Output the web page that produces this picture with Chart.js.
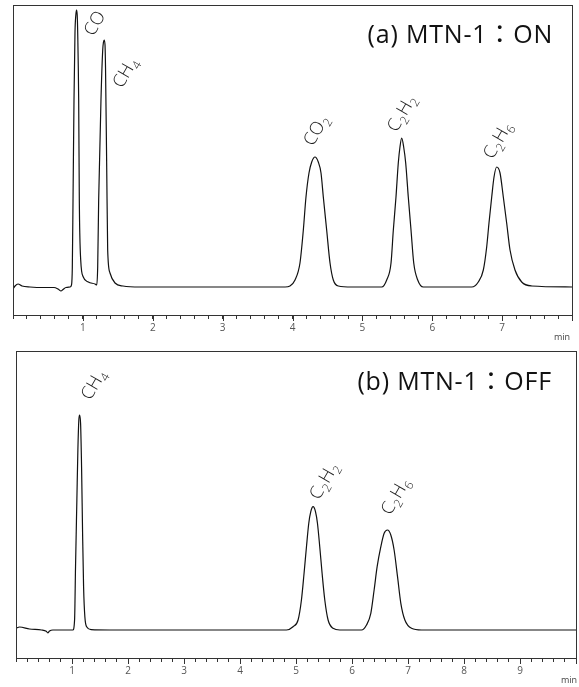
<!DOCTYPE html>
<html>
<head>
<meta charset="utf-8">
<script src="https://cdn.jsdelivr.net/npm/chart.js@4.4.1/dist/chart.umd.min.js"></script>
<style>
body { margin: 0; background: #fff; width: 579px; height: 687px; overflow: hidden; }
canvas { position: absolute; left: 0; }
#chartTop { top: 0; }
#chartBot { top: 345px; }
</style>
</head>
<body>
<canvas id="chartTop" width="579" height="345"></canvas>
<canvas id="chartBot" width="579" height="342"></canvas>
<script>
// (a) MTN-1 : ON  -- retention time (min) / detector signal
var topTime = [0.000,0.029,0.072,0.129,0.243,0.458,0.587,0.644,0.687,0.716,0.758,0.816,
    0.837,0.849,0.859,0.873,0.887,0.899,0.909,0.919,0.926,0.940,0.949,0.969,1.006,1.078,1.174,1.198,
    1.212,1.226,1.259,1.284,1.295,1.305,1.317,1.324,1.341,1.355,1.388,1.460,1.574,1.818,
    3.893,3.964,4.036,4.107,4.155,4.193,4.236,4.275,4.322,4.369,4.408,4.441,4.489,4.537,4.584,4.655,4.847,
    5.277,5.348,5.410,5.443,5.481,5.514,5.538,5.563,5.591,5.620,5.657,5.696,5.735,5.792,5.872,
    6.565,6.659,6.731,6.779,6.812,6.851,6.884,6.922,6.970,7.017,7.065,7.113,7.184,7.280,7.423,8.000];
var topSignal = [-2,1,3,1,0,-0.5,-0.5,-2,-4,-2.5,-0.5,0,
    2,20,87,187,254,272,277,272,254,187,87,27,10,5,3,2,
    20,87,187,237,245,247,242,220,120,37,14,4,1,0,
    0,1,7,24,57,90,114,125,130,125,114,90,57,24,7,1,0,
    0,7,24,57,90,124,140,149,140,124,90,57,24,7,0,
    0,5,17,40,64,90,110,120,114,90,64,37,17,5,1,0];
var topPeakNames = ['CO', 'CH4', 'CO2', 'C2H2', 'C2H6'];
var topPeakTimes = [0.909, 1.305, 4.322, 5.563, 6.922];
var topTitle = '(a) MTN-1\uFF1AON';
var topMaxTime = 8;

// (b) MTN-1 : OFF
var botTime = [0.000,0.063,0.241,0.456,0.540,0.568,0.599,0.658,1.015,
    1.046,1.063,1.087,1.105,1.122,1.135,1.153,1.171,1.189,1.207,1.230,1.265,1.344,1.671,
    4.829,4.947,5.037,5.097,5.144,5.187,5.228,5.264,5.305,5.348,5.383,5.424,5.466,5.514,5.573,5.662,5.782,
    6.170,6.259,6.336,6.395,6.449,6.515,6.574,6.634,6.693,6.752,6.813,6.872,6.944,7.063,7.242,10.000];
var botSignal = [1.7,3,1,0,-1.3,-2.8,-1,0,0,
    10,63,130,180,210,215,207,163,97,43,13,3,0.3,0,
    0,3.3,10,30,56.7,83.3,106.7,118.3,123.3,118.3,106.7,83.3,56.7,30,10,1.7,0,
    0,5,16.7,40,63.3,83.3,96.7,100,95,80,53.3,26.7,10,1.7,0,0];
var botPeakNames = ['CH4', 'C2H2', 'C2H6'];
var botPeakTimes = [1.135, 5.305, 6.634];
var botTitle = '(b) MTN-1\uFF1AOFF';
var botMaxTime = 10;

var FONT = '"Open Sans", "Noto Sans CJK JP", sans-serif';

// label placement relative to the peak apex (px)
var topLabelShift = [[17, 27], [18, 49], [-2, -10], [-5, -5], [-4, -7]];
var botLabelShift = [[11, -14], [6, -6], [3, -14]];

function toPoints(t, s) {
    return t.map(function(v, i) { return {x: v, y: s[i]}; });
}

function drawFormula(ctx, text, x, y) {
    ctx.save();
    ctx.translate(x, y);
    ctx.rotate(-60 * Math.PI / 180);
    ctx.fillStyle = '#222';
    ctx.textAlign = 'left';
    ctx.textBaseline = 'alphabetic';
    var cx = 0;
    for (var i = 0; i < text.length; i++) {
        var ch = text[i];
        if (/[0-9]/.test(ch)) {
            ctx.font = '300 12px ' + FONT;
            ctx.fillText(ch, cx + 0.5, 4.5);
            cx += ctx.measureText(ch).width + 1;
        } else {
            ctx.font = '300 18px ' + FONT;
            ctx.fillText(ch, cx, 0);
            cx += ctx.measureText(ch).width;
        }
    }
    ctx.restore();
}

var chromPlugin = {
    id: 'chrom',
    afterDraw: function(chart) {
        var o = chart.options.plugins.chrom;
        var a = chart.chartArea, ctx = chart.ctx;
        var xs = chart.scales.x, ys = chart.scales.y;
        ctx.save();
        ctx.strokeStyle = '#333';
        ctx.lineWidth = 1;
        ctx.strokeRect(Math.round(a.left) + 0.5, Math.round(a.top) + 0.5,
            Math.round(a.right - a.left), Math.round(a.bottom - a.top));
        // longer major ticks
        ctx.beginPath();
        for (var v = 1; v <= o.maxTime; v++) {
            var px = Math.round(xs.getPixelForValue(v)) + 0.5;
            ctx.moveTo(px, a.bottom);
            ctx.lineTo(px, a.bottom + 6);
        }
        ctx.stroke();
        ctx.fillStyle = '#444';
        ctx.font = '9px ' + FONT;
        ctx.textAlign = 'right';
        ctx.textBaseline = 'alphabetic';
        ctx.fillText('min', a.right + o.minDx, a.bottom + 25);
        ctx.fillStyle = '#111';
        ctx.font = '25px ' + FONT;
        ctx.letterSpacing = '0.8px';
        ctx.fillText(o.title, a.right + o.titleDx, a.top + o.titleDy);
        ctx.letterSpacing = '0px';
        var ds = chart.data.datasets[0].data;
        o.names.forEach(function(name, k) {
            var best = null;
            ds.forEach(function(p) {
                if (Math.abs(p.x - o.times[k]) < 0.06 && (best === null || p.y > best.y)) best = p;
            });
            var px = xs.getPixelForValue(best.x), py = ys.getPixelForValue(best.y);
            drawFormula(ctx, name, px + o.shift[k][0], py + o.shift[k][1]);
        });
        ctx.restore();
    }
};

function makeChart(id, t, s, maxTime, pad, names, times, shift, title, titleDx, titleDy, minDx) {
    return new Chart(document.getElementById(id), {
        type: 'line',
        data: {
            datasets: [{
                data: toPoints(t, s),
                borderColor: '#111',
                borderWidth: 1.2,
                pointRadius: 0,
                cubicInterpolationMode: 'monotone',
                fill: false
            }]
        },
        options: {
            responsive: false,
            animation: false,
            layout: { padding: pad },
            plugins: {
                legend: { display: false },
                tooltip: { enabled: false },
                chrom: { maxTime: maxTime, names: names, times: times, shift: shift,
                         title: title, titleDx: titleDx, titleDy: titleDy, minDx: minDx }
            },
            scales: {
                x: {
                    type: 'linear',
                    min: 0,
                    max: maxTime,
                    afterFit: function(sc) { sc.height = 25; },
                    border: { display: false },
                    grid: { drawOnChartArea: false, drawTicks: true, tickLength: 4, tickColor: '#333', tickWidth: 1 },
                    ticks: {
                        stepSize: 0.2,
                        autoSkip: false,
                        maxRotation: 0,
                        padding: 3,
                        color: '#555',
                        font: { family: FONT, size: 10 },
                        callback: function(v) {
                            var r = Math.round(v);
                            return (Math.abs(v - r) < 1e-6 && r > 0 && r < maxTime) ? String(r) : '';
                        }
                    }
                },
                y: { display: false, min: -28, max: s === topSignal ? 282 : 279 }
            }
        },
        plugins: [chromPlugin]
    });
}

makeChart('chartTop', topTime, topSignal, topMaxTime, {left: 13, right: 7, top: 5, bottom: 5},
    topPeakNames, topPeakTimes, topLabelShift, topTitle, -19, 38, -2);
makeChart('chartBot', botTime, botSignal, botMaxTime, {left: 16, right: 3, top: 6, bottom: 4},
    botPeakNames, botPeakTimes, botLabelShift, botTitle, -24, 39, 1);
</script>
</body>
</html>
